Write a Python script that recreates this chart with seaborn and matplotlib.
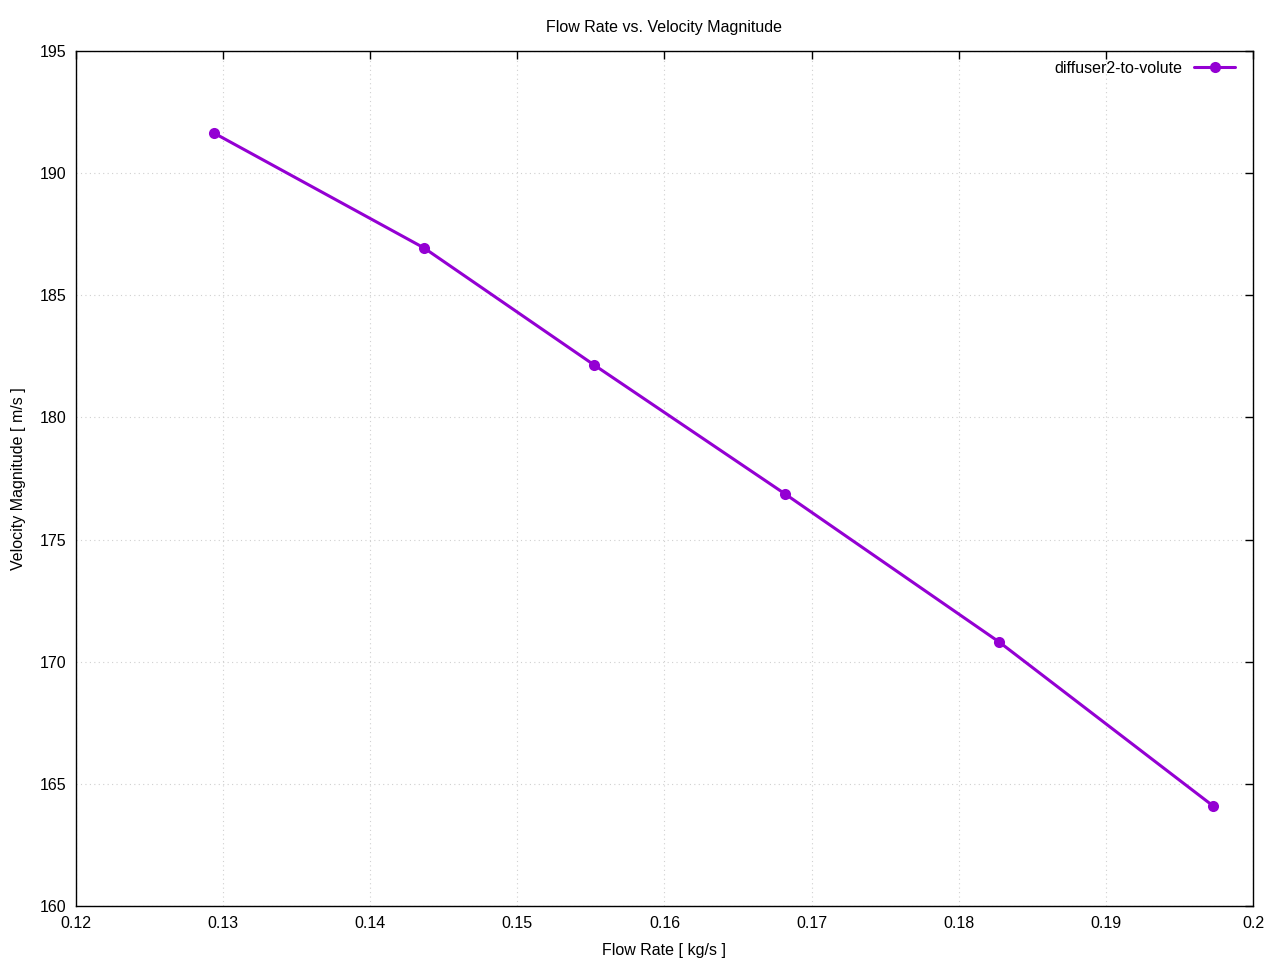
import matplotlib
matplotlib.use("Agg")
import matplotlib.pyplot as plt
import seaborn as sns
import pandas as pd

# valores
flow_rate = [0.12938, 0.14365, 0.15521, 0.16819, 0.18274, 0.19728]
velocity = [191.64, 186.94, 182.15, 176.87, 170.81, 164.10]
serie = "diffuser2-to-volute"

x_ticks = [0.12, 0.13, 0.14, 0.15, 0.16, 0.17, 0.18, 0.19, 0.2]
x_labels = ["0.12", "0.13", "0.14", "0.15", "0.16", "0.17", "0.18", "0.19", "0.2"]
y_ticks = [160, 165, 170, 175, 180, 185, 190, 195]

sns.set_theme(style="white")
plt.rcParams['font.family'] = ['Liberation Sans', 'DejaVu Sans']
plt.rcParams['text.color'] = 'black'
plt.rcParams['axes.labelcolor'] = 'black'

df = pd.DataFrame({"flow": flow_rate, "vel": velocity, "serie": serie})

fig = plt.figure(figsize=(12.8, 9.6), dpi=100)
ax = fig.add_axes([76 / 1280, 54 / 960, (1253 - 76) / 1280, (906 - 51) / 960])

sns.lineplot(data=df, x="flow", y="vel", hue="serie", palette=["#9400D3"],
             marker="o", markersize=8, markeredgewidth=0, linewidth=2.2, ax=ax)

fs = 11.5
ax.set_xlim(0.12, 0.2)
ax.set_ylim(160, 195)
ax.set_xticks(x_ticks)
ax.set_xticklabels(x_labels)
ax.set_yticks(y_ticks)
ax.tick_params(direction="in", length=6, width=1, top=True, right=True,
               labelsize=fs, colors="black", pad=7)
for s in ax.spines.values():
    s.set_color("black")
    s.set_linewidth(1)
ax.grid(True, color="#d0d0d0", linestyle=(0, (1, 3)), linewidth=0.8)

ax.set_xlabel("Flow Rate [ kg/s ]", fontsize=fs, labelpad=9)
ax.set_ylabel("Velocity Magnitude [ m/s ]", fontsize=fs, labelpad=10)
ax.set_title("Flow Rate vs. Velocity Magnitude", fontsize=fs, pad=14)

# leyenda a la derecha, texto antes de la linea (estilo gnuplot)
leg = ax.legend(loc="upper right", bbox_to_anchor=(1 - 4 / 1177, 1 + 4 / 855),
                frameon=False, markerfirst=False, fontsize=fs,
                handlelength=2.6, handletextpad=0.7, borderaxespad=0.45)

fig.savefig("out.png", dpi=100)
plt.close()
